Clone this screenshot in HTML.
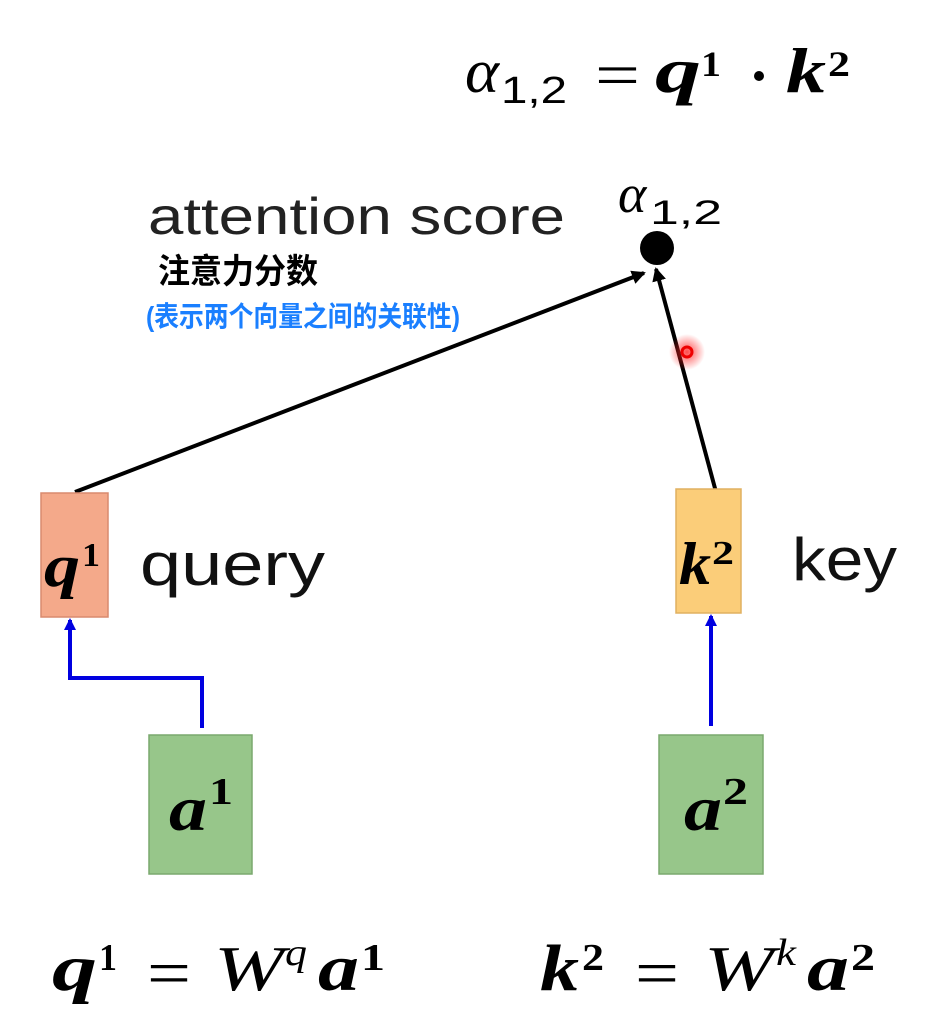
<!DOCTYPE html>
<html><head><meta charset="utf-8"><style>
html,body{margin:0;padding:0;background:#fff;width:925px;height:1024px;overflow:hidden}
svg{display:block}
.m{font-family:"Liberation Serif",serif;font-weight:bold;font-style:italic}
.s{font-family:"Liberation Serif",serif;font-weight:bold}
.i{font-family:"Liberation Serif",serif;font-style:italic}
.r{font-family:"Liberation Serif",serif}
</style></head><body>
<svg width="925" height="1024" xmlns="http://www.w3.org/2000/svg">
<defs>
<marker id="ab" markerWidth="14" markerHeight="14" refX="12" refY="7" orient="auto" markerUnits="userSpaceOnUse"><path d="M0,0 L14,7 L0,14 z" fill="#000"/></marker>
<marker id="ablue" markerWidth="12" markerHeight="12" refX="10" refY="6" orient="auto" markerUnits="userSpaceOnUse"><path d="M0,0 L12,6 L0,12 z" fill="#0000e0"/></marker>
<radialGradient id="glow"><stop offset="0" stop-color="#ff2020" stop-opacity="0.8"/><stop offset="1" stop-color="#ff2020" stop-opacity="0"/></radialGradient>
</defs>
<g lengthAdjust="spacingAndGlyphs">
<!-- top formula -->
<text x="465" y="92" class="i" font-size="62" textLength="34" lengthAdjust="spacingAndGlyphs">α</text>
<text x="501" y="103" font-family="Liberation Sans,sans-serif" font-size="38" textLength="66" lengthAdjust="spacingAndGlyphs">1,2</text>
<text x="595" y="96" class="r" font-size="62" textLength="45" lengthAdjust="spacingAndGlyphs">=</text>
<text x="655" y="92" class="m" font-size="64" textLength="46" lengthAdjust="spacingAndGlyphs">q</text>
<text x="701" y="76" class="s" font-size="36" textLength="20" lengthAdjust="spacingAndGlyphs">1</text>
<circle cx="759" cy="76" r="5" fill="#000"/>
<text x="786" y="92" class="m" font-size="64" textLength="40" lengthAdjust="spacingAndGlyphs">k</text>
<text x="828" y="76" class="s" font-size="36" textLength="22" lengthAdjust="spacingAndGlyphs">2</text>

<text x="148" y="234" font-family="Liberation Sans,sans-serif" font-size="52" fill="#222" textLength="417" lengthAdjust="spacingAndGlyphs">attention score</text>
<text x="618" y="212" class="i" font-size="54">α</text>
<text x="650" y="224" font-family="Liberation Sans,sans-serif" font-size="34" textLength="72" lengthAdjust="spacingAndGlyphs">1,2</text>
<text x="158" y="283" font-family="Liberation Sans,'Noto Sans CJK SC',sans-serif" font-size="34" fill="#000" font-weight="bold" textLength="160" lengthAdjust="spacingAndGlyphs">注意力分数</text>
<text x="146" y="326" font-family="Liberation Sans,'Noto Sans CJK SC',sans-serif" font-size="28" fill="#1a7fff" font-weight="bold" textLength="314" lengthAdjust="spacingAndGlyphs">(表示两个向量之间的关联性)</text>

<circle cx="657" cy="248" r="17" fill="#000"/>
<line x1="75" y1="492" x2="644" y2="273" stroke="#000" stroke-width="4" marker-end="url(#ab)"/>
<line x1="716" y1="492" x2="656" y2="269" stroke="#000" stroke-width="4" marker-end="url(#ab)"/>
<circle cx="687" cy="352" r="18" fill="url(#glow)"/>
<circle cx="687" cy="352" r="5" fill="none" stroke="#e00" stroke-width="3"/>

<rect x="41" y="493" width="67" height="124" fill="#f4a98a" stroke="#d98a6e" stroke-width="1.5"/>
<text x="44" y="586" class="m" font-size="60" textLength="36" lengthAdjust="spacingAndGlyphs">q</text>
<text x="82" y="566" class="s" font-size="34" textLength="18" lengthAdjust="spacingAndGlyphs">1</text>
<text x="140" y="585" font-family="Liberation Sans,sans-serif" font-size="60" fill="#111" textLength="185" lengthAdjust="spacingAndGlyphs">query</text>

<rect x="676" y="489" width="65" height="124" fill="#fbcd79" stroke="#e0b060" stroke-width="1.5"/>
<text x="679" y="584" class="m" font-size="60" textLength="32" lengthAdjust="spacingAndGlyphs">k</text>
<text x="712" y="564" class="s" font-size="34" textLength="22" lengthAdjust="spacingAndGlyphs">2</text>
<text x="792" y="580" font-family="Liberation Sans,sans-serif" font-size="60" fill="#111" textLength="105" lengthAdjust="spacingAndGlyphs">key</text>

<polyline points="202,728 202,678 70,678 70,620" fill="none" stroke="#0000e0" stroke-width="4" marker-end="url(#ablue)"/>
<line x1="711" y1="726" x2="711" y2="616" stroke="#0000e0" stroke-width="4" marker-end="url(#ablue)"/>

<rect x="149" y="735" width="103" height="139" fill="#97c68a" stroke="#7aa86e" stroke-width="1.5"/>
<text x="169" y="830" class="m" font-size="64" textLength="38" lengthAdjust="spacingAndGlyphs">a</text>
<text x="209" y="804" class="s" font-size="38" textLength="24" lengthAdjust="spacingAndGlyphs">1</text>
<rect x="659" y="735" width="104" height="139" fill="#97c68a" stroke="#7aa86e" stroke-width="1.5"/>
<text x="684" y="830" class="m" font-size="64" textLength="38" lengthAdjust="spacingAndGlyphs">a</text>
<text x="723" y="804" class="s" font-size="38" textLength="25" lengthAdjust="spacingAndGlyphs">2</text>

<text x="52" y="990" class="m" font-size="66" textLength="45" lengthAdjust="spacingAndGlyphs">q</text>
<text x="99" y="970" class="s" font-size="38" textLength="18" lengthAdjust="spacingAndGlyphs">1</text>
<text x="147" y="995" class="r" font-size="66" textLength="44" lengthAdjust="spacingAndGlyphs">=</text>
<text x="214" y="990" class="i" font-size="64" textLength="70" lengthAdjust="spacingAndGlyphs">W</text>
<text x="285" y="965" class="i" font-size="38" textLength="22" lengthAdjust="spacingAndGlyphs">q</text>
<text x="318" y="990" class="m" font-size="66" textLength="41" lengthAdjust="spacingAndGlyphs">a</text>
<text x="361" y="970" class="s" font-size="38" textLength="24" lengthAdjust="spacingAndGlyphs">1</text>

<text x="540" y="990" class="m" font-size="66" textLength="39" lengthAdjust="spacingAndGlyphs">k</text>
<text x="582" y="970" class="s" font-size="38" textLength="22" lengthAdjust="spacingAndGlyphs">2</text>
<text x="635" y="995" class="r" font-size="66" textLength="44" lengthAdjust="spacingAndGlyphs">=</text>
<text x="704" y="990" class="i" font-size="64" textLength="70" lengthAdjust="spacingAndGlyphs">W</text>
<text x="776" y="965" class="i" font-size="38" textLength="20" lengthAdjust="spacingAndGlyphs">k</text>
<text x="807" y="990" class="m" font-size="66" textLength="42" lengthAdjust="spacingAndGlyphs">a</text>
<text x="851" y="970" class="s" font-size="38" textLength="24" lengthAdjust="spacingAndGlyphs">2</text>
</g>
</svg>
</body></html>
